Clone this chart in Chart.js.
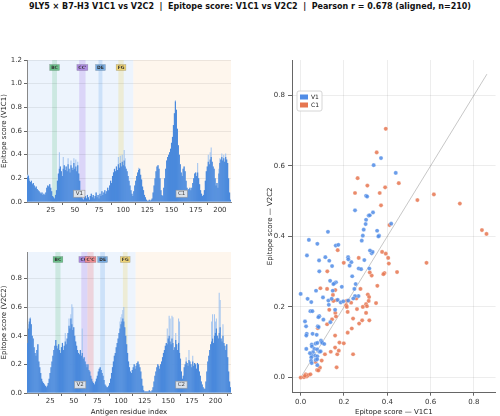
<!DOCTYPE html>
<html>
<head>
<meta charset="utf-8">
<script src="https://cdn.jsdelivr.net/npm/chart.js@4.4.1/dist/chart.umd.min.js"></script>
<style>
  body { margin: 0; width: 500px; height: 416px; background: #fff; position: relative; overflow: hidden; font-family: "DejaVu Sans", sans-serif; }
  #title { position: absolute; top: 2px; left: 0; width: 500px; text-align: center; font-weight: bold; font-size: 8px; color: #111; white-space: pre; }
  canvas { position: absolute; }
</style>
</head>
<body>
<div id="title">9LY5 × B7-H3 V1C1 vs V2C2  |  Epitope score: V1C1 vs V2C2  |  Pearson r = 0.678 (aligned, n=210)</div>
<canvas id="topChart" width="240" height="166" style="left:0;top:50px"></canvas>
<canvas id="bottomChart" width="240" height="176" style="left:0;top:240px"></canvas>
<canvas id="scatterChart" width="250" height="366" style="left:250px;top:50px"></canvas>
<script>
// ---- V1C1 per-residue epitope score (dark = smoothed, light = raw peaks)
const v1c1Score = [
  .21,.22,.18,.17,.18,.15,.16,.14,.12,.13, .11,.10,.09,.08,.07,.08,.06,.07,.06,.08,
  .12,.14,.13,.15,.12,.09,.05,.04,.03,.06, .10,.18,.24,.28,.30,.26,.22,.28,.31,.27,
  .30,.26,.32,.28,.25,.31,.29,.27,.33,.28, .30,.26,.31,.24,.18,.10,.05,.03,.02,.04,
  .05,.03,.06,.04,.02,.05,.07,.04,.06,.03, .05,.08,.04,.06,.03,.07,.05,.09,.06,.08,
  .10,.07,.09,.12,.10,.14,.18,.16,.22,.25, .28,.26,.30,.27,.32,.29,.33,.30,.34,.31,
  .35,.30,.28,.26,.22,.18,.14,.10,.07,.05, .09,.14,.18,.22,.25,.27,.28,.23,.19,.13,
  .10,.06,.04,.02,.01,.01,.02,.01,.02,.03, .08,.14,.20,.26,.30,.31,.28,.20,.10,.06,
  .05,.12,.20,.28,.35,.38,.40,.42,.45,.50, .55,.65,.75,.85,.78,.62,.48,.40,.32,.25,
  .22,.28,.30,.26,.18,.12,.10,.11,.12,.10, .12,.16,.20,.24,.25,.22,.25,.20,.15,.10,
  .07,.05,.06,.10,.18,.26,.30,.34,.32,.36, .38,.34,.30,.28,.20,.14,.16,.12,.24,.33,
  .36,.38,.35,.37,.34,.38,.36,.33,.20,.08, .02
];
const v1c1Raw = [
  .23,.23,.20,.17,.18,.15,.16,.14,.12,.13, .11,.10,.09,.08,.07,.08,.06,.07,.06,.08,
  .12,.14,.13,.15,.12,.09,.05,.04,.03,.06, .10,.18,.24,.42,.30,.26,.22,.38,.31,.27,
  .30,.26,.37,.28,.25,.35,.29,.27,.37,.28, .36,.26,.34,.24,.18,.10,.05,.03,.02,.04,
  .05,.03,.06,.04,.02,.05,.07,.04,.06,.03, .05,.08,.04,.06,.03,.07,.05,.09,.06,.08,
  .10,.07,.09,.12,.10,.14,.18,.16,.22,.25, .28,.26,.30,.27,.38,.29,.39,.30,.40,.31,
  .44,.37,.28,.26,.22,.18,.14,.10,.07,.05, .09,.14,.18,.22,.25,.29,.28,.23,.19,.13,
  .10,.06,.04,.02,.01,.01,.02,.01,.02,.03, .08,.14,.20,.26,.30,.31,.28,.20,.10,.06,
  .05,.12,.20,.28,.35,.38,.40,.42,.45,.50, .55,.65,.75,.86,.78,.62,.48,.40,.32,.25,
  .22,.28,.30,.26,.18,.12,.10,.11,.12,.10, .12,.16,.20,.24,.25,.22,.33,.20,.15,.10,
  .07,.05,.06,.10,.18,.26,.30,.40,.32,.42, .46,.34,.30,.28,.20,.14,.16,.12,.28,.37,
  .36,.41,.35,.40,.34,.41,.36,.33,.20,.08, .02
];

// ---- V2C2 per-residue epitope score
const v2c2Score = [
  .35,.45,.50,.52,.48,.40,.38,.32,.28,.26, .30,.34,.22,.18,.14,.10,.08,.07,.06,.05,
  .04,.05,.07,.10,.14,.18,.22,.26,.30,.33, .37,.33,.31,.34,.30,.28,.32,.35,.30,.33,
  .36,.34,.38,.42,.47,.45,.52,.48,.44,.46, .40,.36,.33,.30,.28,.27,.30,.26,.28,.24,
  .25,.22,.20,.18,.20,.16,.15,.12,.10,.08, .07,.06,.08,.10,.12,.15,.17,.18,.16,.14,
  .12,.09,.06,.05,.04,.04,.05,.07,.10,.14, .18,.22,.26,.28,.32,.35,.38,.42,.45,.48,
  .50,.52,.50,.46,.40,.34,.28,.22,.18,.15, .14,.16,.18,.20,.17,.19,.21,.22,.20,.18,
  .15,.10,.05,.02,.01,.01,.01,.01,.01,.02, .01,.01,.02,.04,.08,.12,.15,.18,.20,.19,
  .17,.20,.22,.25,.28,.30,.33,.35,.34,.38, .40,.36,.34,.38,.35,.30,.32,.37,.34,.30,
  .35,.28,.24,.15,.10,.12,.18,.20,.22,.21, .19,.23,.22,.20,.18,.22,.19,.21,.20,.17,
  .21,.20,.15,.12,.08,.06,.04,.03,.03,.08, .15,.22,.26,.30,.34,.36,.38,.35,.40,.42,
  .45,.40,.38,.42,.46,.38,.36,.40,.35,.33, .30,.34,.25,.15,.08,.04
];
const v2c2Raw = [
  .35,.48,.52,.53,.48,.40,.38,.32,.28,.26, .30,.34,.22,.18,.14,.10,.08,.07,.06,.05,
  .04,.05,.07,.10,.14,.18,.22,.26,.30,.33, .37,.33,.31,.34,.30,.28,.32,.35,.30,.33,
  .42,.34,.38,.42,.52,.45,.55,.62,.60,.46, .40,.36,.33,.30,.28,.27,.30,.26,.45,.24,
  .25,.22,.20,.18,.20,.16,.15,.12,.10,.08, .07,.06,.08,.10,.12,.15,.17,.18,.16,.14,
  .12,.09,.06,.05,.04,.04,.05,.07,.10,.14, .18,.22,.26,.28,.32,.35,.38,.42,.50,.53,
  .55,.58,.60,.46,.40,.34,.28,.22,.18,.15, .14,.16,.18,.20,.17,.19,.21,.22,.20,.18,
  .15,.10,.05,.02,.01,.01,.01,.01,.01,.02, .01,.01,.02,.04,.08,.12,.15,.18,.20,.19,
  .17,.20,.22,.25,.28,.30,.33,.35,.45,.38, .54,.52,.34,.54,.53,.30,.32,.42,.34,.30,
  .52,.50,.24,.15,.10,.12,.18,.20,.25,.21, .19,.30,.22,.20,.18,.26,.19,.21,.20,.17,
  .21,.20,.15,.12,.08,.06,.04,.03,.03,.08, .15,.22,.26,.30,.34,.50,.55,.35,.55,.50,
  .52,.40,.38,.70,.65,.38,.36,.48,.35,.33, .30,.34,.25,.15,.08,.04
];

// ---- domain annotation (residue ranges)
const topRegions = [
  { name: 'V1', from: 0.5, to: 110.5, labelAt: [54.6, 0.07] },
  { name: 'C1', from: 110.5, to: 211.5, labelAt: [160.5, 0.07] }
];
const bottomRegions = [
  { name: 'V2', from: 0.5, to: 115.5, labelAt: [56.8, 0.058] },
  { name: 'C2', from: 115.5, to: 216.5, labelAt: [164, 0.058] }
];
const topStrands = [
  { name: 'BC', from: 26.5, to: 31.5, kind: 'green' },
  { name: "CC'", from: 54.5, to: 61, kind: 'purple' },
  { name: 'DE', from: 74.5, to: 78.5, kind: 'blue' },
  { name: 'FG', from: 95, to: 100.5, kind: 'yellow' }
];
const bottomStrands = [
  { name: 'BC', from: 30.5, to: 36, kind: 'green' },
  { name: "CC'", from: 58, to: 64.5, kind: 'purple' },
  { name: "C'C", from: 64.5, to: 71, kind: 'red' },
  { name: 'DE', from: 78, to: 83, kind: 'blue' },
  { name: 'FG', from: 102, to: 107, kind: 'yellow' }
];

// ---- scatter: aligned residues, V1C1 score vs V2C2 score
const vX = [.371,.337,.439,.302,.307,.251,.334,.314,.319,.302,.300,.418,.291,.353,.287,.362,.359,.282,.126,.038,
  .077,.162,.174,.029,.114,.085,.132,.219,.220,.234,.226,.328,.332,.320,.294,.145,.086,.268,.279,.317,
  .238,.136,.163,.156,.151,.254,.071,.190,.148,.248,.000,.032,.049,.103,.128,.143,.171,.185,.197,.267,
  .251,.243,.220,.045,.054,.130,.159,.105,.086,.082,.137,.020,.025,.028,.026,.055,.079,.083,.074,.051,
  .052,.069,.077,.094,.097,.100,.109,.026,.063,.076,.057,.066,.086,.092,.051,.077,.049,.048,.051,.069,
  .076,.077,.043];
const vY = [.622,.602,.580,.515,.513,.474,.468,.459,.460,.447,.435,.436,.419,.416,.402,.402,.400,.388,.413,.390,
  .379,.374,.376,.346,.341,.332,.331,.341,.335,.327,.317,.352,.356,.360,.333,.316,.301,.309,.307,.309,
  .287,.274,.270,.267,.265,.265,.246,.257,.246,.251,.237,.223,.214,.227,.218,.223,.220,.213,.216,.231,
  .231,.224,.218,.188,.188,.206,.192,.164,.174,.171,.157,.159,.145,.124,.119,.124,.145,.143,.121,.093,
  .088,.096,.098,.105,.101,.098,.095,.081,.081,.080,.072,.062,.073,.074,.062,.060,.057,.047,.041,.050,
  .052,.035,.069];
const cX = [.393,.351,.263,.308,.390,.453,.251,.365,.539,.615,.735,.371,.837,.858,.410,.581,.445,.387,.382,.328,
  .319,.376,.393,.404,.407,.171,.199,.268,.123,.354,.091,.122,.160,.149,.310,.276,.316,.314,.348,.302,
  .306,.257,.213,.165,.151,.210,.233,.213,.287,.260,.217,.302,.132,.160,.163,.145,.122,.270,.242,.284,
  .317,.236,.217,.159,.079,.179,.199,.159,.139,.169,.176,.242,.112,.097,.069,.166,.089,.076,.082,.000,
  .023,.028,.015,.035,.045,.020];
const cY = [.705,.638,.565,.544,.539,.551,.523,.523,.503,.519,.493,.488,.418,.407,.432,.325,.299,.296,.293,.289,
  .298,.356,.351,.339,.323,.361,.325,.339,.301,.260,.253,.251,.248,.234,.235,.251,.228,.217,.211,.208,
  .202,.224,.217,.219,.217,.205,.212,.200,.200,.194,.186,.183,.192,.183,.173,.165,.151,.153,.167,.162,
  .162,.139,.127,.119,.140,.099,.097,.085,.073,.066,.076,.066,.066,.048,.044,.029,.028,.021,.020,.000,
  .009,.003,.001,.007,.009,.005];
const diagLine = [0, 0.86];

const strandFill = { green: 'rgba(120,200,150,0.28)', purple: 'rgba(175,140,235,0.30)', blue: 'rgba(140,190,240,0.35)', yellow: 'rgba(235,220,140,0.35)', red: 'rgba(235,140,150,0.32)' };
const strandTag = { green: '#6cc08a', purple: '#ae8ce0', blue: '#79ade3', yellow: '#ecd276', red: '#ec8d92' };
const regionFill = ['rgba(225,236,252,0.6)', 'rgba(253,240,225,0.6)'];
const TICK = { size: 7, family: 'DejaVu Sans' };

// draws domain shading, strand bands and their tags using the x/y scales
const domainPlugin = {
  id: 'domains',
  beforeDraw(chart, args, opts) {
    const { ctx, chartArea: a, scales: { x } } = chart;
    ctx.save();
    opts.regions.forEach((r, i) => {
      const x0 = x.getPixelForValue(r.from), x1 = x.getPixelForValue(r.to);
      ctx.fillStyle = regionFill[i];
      ctx.fillRect(x0, a.top, x1 - x0, a.bottom - a.top);
    });
    opts.strands.forEach(s => {
      const x0 = x.getPixelForValue(s.from), x1 = x.getPixelForValue(s.to);
      ctx.fillStyle = strandFill[s.kind];
      ctx.fillRect(x0, a.top, x1 - x0, a.bottom - a.top);
    });
    ctx.restore();
  },
  afterDatasetsDraw(chart, args, opts) {
    const { ctx, chartArea: a, scales: { x, y } } = chart;
    ctx.save();
    ctx.font = 'bold 4.5px DejaVu Sans';
    ctx.textAlign = 'center';
    ctx.textBaseline = 'middle';
    opts.strands.forEach(s => {
      const cx = x.getPixelForValue((s.from + s.to) / 2), cy = a.top + 7.5;
      const w = ctx.measureText(s.name).width + 3;
      ctx.fillStyle = strandTag[s.kind];
      ctx.fillRect(cx - w / 2, cy - 3, w, 6);
      ctx.strokeStyle = 'rgba(0,0,0,0.25)';
      ctx.lineWidth = 0.5;
      ctx.strokeRect(cx - w / 2, cy - 3, w, 6);
      ctx.fillStyle = '#333';
      ctx.fillText(s.name, cx, cy + 0.3);
    });
    ctx.font = '5.5px DejaVu Sans';
    opts.regions.forEach(r => {
      const cx = x.getPixelForValue(r.labelAt[0]), cy = y.getPixelForValue(r.labelAt[1]);
      const w = ctx.measureText(r.name).width + 4;
      ctx.fillStyle = 'rgba(235,235,235,0.9)';
      ctx.fillRect(cx - w / 2, cy - 3.5, w, 7);
      ctx.strokeStyle = '#999';
      ctx.lineWidth = 0.6;
      ctx.strokeRect(cx - w / 2, cy - 3.5, w, 7);
      ctx.fillStyle = '#444';
      ctx.fillText(r.name, cx, cy + 0.3);
    });
    ctx.restore();
  }
};

function residueChart(id, dark, light, regions, strands, yMax, yTitle, xTitle, xAxisH, padTop) {
  const n = dark.length;
  return new Chart(document.getElementById(id), {
    type: 'bar',
    data: {
      datasets: [
        { data: dark.map((v, i) => ({ x: i + 1, y: v })), backgroundColor: 'rgb(74,137,220)', grouped: false, barPercentage: 1.25, categoryPercentage: 1, borderWidth: 0 },
        { data: light.map((v, i) => ({ x: i + 1, y: v })), backgroundColor: 'rgb(165,198,240)', grouped: false, barPercentage: 1.1, categoryPercentage: 1, borderWidth: 0 }
      ]
    },
    options: {
      responsive: false,
      animation: false,
      layout: { padding: { top: padTop, right: 9, left: 0, bottom: 0 } },
      plugins: { legend: { display: false }, tooltip: { enabled: false }, domains: { regions, strands } },
      scales: {
        x: {
          type: 'linear', min: 0.5, max: n + 0.5, offset: false,
          ticks: { stepSize: 25, includeBounds: false, font: TICK, color: '#333', padding: 1, maxRotation: 0 },
          grid: { display: true, drawOnChartArea: false, tickLength: 3, color: '#666' },
          border: { color: '#888' },
          title: { display: !!xTitle, text: xTitle, font: { size: 7, family: 'DejaVu Sans' }, color: '#222', padding: { top: 1, bottom: 0 } },
          afterFit: s => { s.height = xAxisH; }
        },
        y: {
          min: 0, max: yMax,
          ticks: { stepSize: 0.2, includeBounds: false, font: TICK, color: '#333', padding: 2, callback: v => v.toFixed(1) },
          grid: { color: 'rgba(0,0,0,0.07)', tickLength: 3, tickColor: '#666' },
          border: { color: '#888' },
          title: { display: true, text: yTitle, font: { size: 7, family: 'DejaVu Sans' }, color: '#222', padding: { top: 0, bottom: 1 } },
          afterFit: s => { s.width = 27; }
        }
      }
    },
    plugins: [domainPlugin]
  });
}

residueChart('topChart', v1c1Score, v1c1Raw, topRegions, topStrands, 1.2, 'Epitope score (V1C1)', '', 14, 10);
residueChart('bottomChart', v2c2Score, v2c2Raw, bottomRegions, bottomStrands, 0.985, 'Epitope score (V2C2)', 'Antigen residue index', 23, 12);

// legend drawn inside the scatter plot area
const innerLegend = {
  id: 'innerLegend',
  afterDraw(chart) {
    const { ctx, chartArea: a } = chart;
    const items = chart.data.datasets.filter(d => d.label);
    const x0 = a.left + 5, y0 = a.top + 31;
    ctx.save();
    ctx.fillStyle = 'rgba(255,255,255,0.85)';
    ctx.strokeStyle = '#ccc';
    ctx.lineWidth = 0.8;
    ctx.beginPath();
    ctx.roundRect(x0, y0, 25, 8 * items.length + 4, 2);
    ctx.fill();
    ctx.stroke();
    ctx.font = '6px DejaVu Sans';
    ctx.textBaseline = 'middle';
    items.forEach((d, i) => {
      const cy = y0 + 6 + i * 8;
      ctx.fillStyle = d.swatch;
      ctx.fillRect(x0 + 3, cy - 2.5, 8, 5);
      ctx.fillStyle = '#222';
      ctx.fillText(d.label, x0 + 14, cy + 0.3);
    });
    ctx.restore();
  }
};

new Chart(document.getElementById('scatterChart'), {
  type: 'scatter',
  data: {
    datasets: [
      { label: 'V1', swatch: 'rgb(80,140,230)', data: vX.map((v, i) => ({ x: v, y: vY[i] })), backgroundColor: 'rgba(80,140,230,0.85)', borderColor: 'rgba(255,255,255,0.7)', borderWidth: 0.4, pointRadius: 2.1 },
      { label: 'C1', swatch: 'rgb(230,118,80)', data: cX.map((v, i) => ({ x: v, y: cY[i] })), backgroundColor: 'rgba(230,118,80,0.85)', borderColor: 'rgba(255,255,255,0.7)', borderWidth: 0.4, pointRadius: 2.1 },
      { type: 'line', data: diagLine.map(v => ({ x: v, y: v })), borderColor: 'rgba(120,120,120,0.6)', borderWidth: 0.7, pointRadius: 0, fill: false, order: 5 }
    ]
  },
  options: {
    responsive: false,
    animation: false,
    layout: { padding: { top: 10, right: 4, left: 16, bottom: 0 } },
    plugins: { legend: { display: false }, tooltip: { enabled: false } },
    scales: {
      x: {
        type: 'linear', min: -0.04, max: 0.9,
        ticks: { stepSize: 0.2, includeBounds: false, font: TICK, color: '#333', padding: 2, callback: v => v.toFixed(1) },
        grid: { color: 'rgba(0,0,0,0.07)', tickLength: 3, tickColor: '#666' },
        border: { color: '#666', width: 1 },
        title: { display: true, text: 'Epitope score — V1C1', font: { size: 7, family: 'DejaVu Sans' }, color: '#222', padding: { top: 1, bottom: 0 } },
        afterFit: s => { s.height = 23.3; }
      },
      y: {
        min: -0.043, max: 0.9,
        ticks: { stepSize: 0.2, includeBounds: false, font: TICK, color: '#333', padding: 3, callback: v => v.toFixed(1) },
        grid: { color: 'rgba(0,0,0,0.07)', tickLength: 4, tickColor: '#666' },
        border: { color: '#666', width: 1 },
        title: { display: true, text: 'Epitope score — V2C2', font: { size: 7, family: 'DejaVu Sans' }, color: '#222', padding: { top: 0, bottom: 1 } },
        afterFit: s => { s.width = 26; }
      }
    }
  },
  plugins: [innerLegend]
});
</script>
</body>
</html>
